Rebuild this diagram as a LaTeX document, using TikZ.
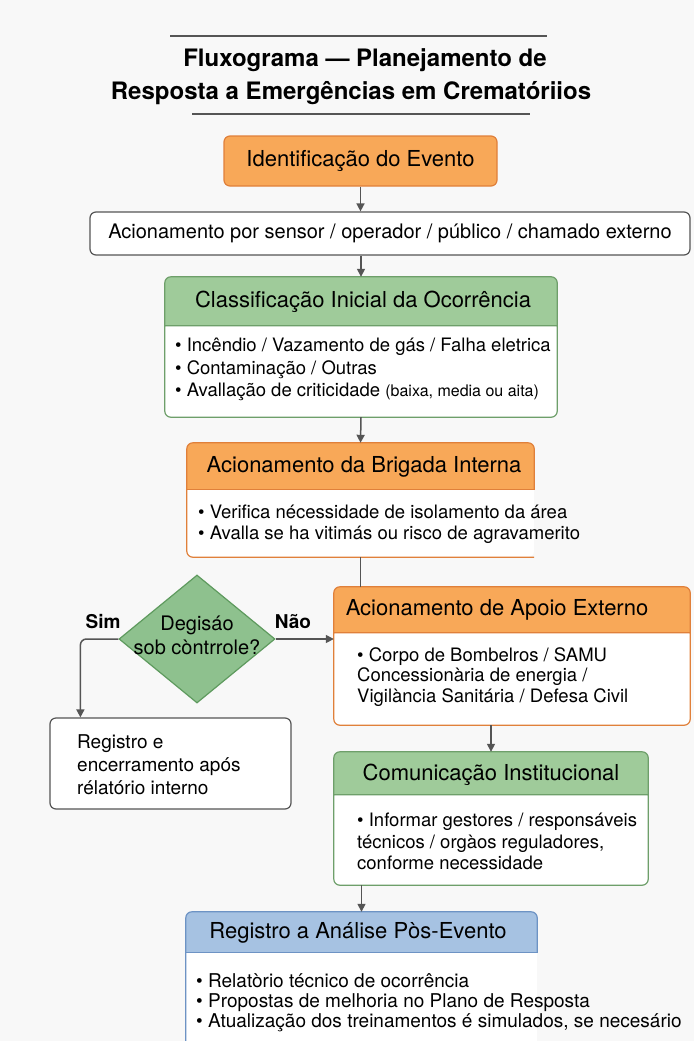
\documentclass[tikz,border=0pt]{standalone}
\usepackage{fontspec}
\setmainfont{TeX Gyre Heros}
\usepackage{xcolor}
\usepackage{tikz}
\usetikzlibrary{positioning,arrows.meta,shapes.geometric}
\definecolor{bgc}{HTML}{F8F8F8}
\definecolor{orfill}{HTML}{F8A858}
\definecolor{orbd}{HTML}{E0803A}
\definecolor{grfill}{HTML}{9FCB9A}
\definecolor{grbd}{HTML}{6E9F6A}
\definecolor{blfill}{HTML}{A6C2E2}
\definecolor{blbd}{HTML}{6D93C4}
\definecolor{dmfill}{HTML}{8EC18E}
\definecolor{dmbd}{HTML}{5E9A5E}
\definecolor{lnc}{HTML}{555555}
\newcommand{\hdrbox}[6]{% name, centre, width, height, header height, fill
  \node[minimum width=#3,minimum height=#4,inner sep=0pt,fill=white,rounded corners=6pt] (#1) at (#2) {};
  \begin{scope}
    \clip (#1.north west) rectangle ([yshift=-#5]#1.north east);
    \fill[#6,rounded corners=6pt] (#1.north west) rectangle (#1.south east);
  \end{scope}
}

\begin{document}
\begin{tikzpicture}[x=1pt,y=-1pt,
    bd/.style={draw=#1,line width=1.2pt,rounded corners=6pt},
    hdr/.style={font=\fontsize{22}{26}\selectfont},
    txt/.style={font=\fontsize{18.5}{21.5}\selectfont,align=left,anchor=west,inner sep=0pt},
    ln/.style={draw=lnc,line width=1.5pt},
    arw/.style={ln,-{Triangle[length=8pt,width=8pt]}}]
  \fill[bgc] (0,0) rectangle (694,1041);
  \useasboundingbox (0,0) rectangle (694,1041);
  % Title
  \draw[lnc,line width=1.4pt] (170,36) -- (547,36);
  \draw[lnc,line width=1.4pt] (192,114) -- (530,114);
  \node[font=\fontsize{24}{28}\bfseries] (title1) at (365,60) {Fluxograma — Planejamento de};
  \node[font=\fontsize{24}{28}\bfseries] (title2) at (351,93) {Resposta a Emergências em Crematóriios};
  % Event and trigger
  \node[bd=orbd,fill=orfill,minimum width=273pt,minimum height=50pt,hdr] (ident) at (360.5,161) {Identificação do Evento};
  \node[bd=lnc,fill=white,minimum width=600pt,minimum height=43pt,font=\fontsize{20}{24}\selectfont] (acion) at (390,233.5)
    {Acionamento por sensor / operador / público / chamado externo};
  % Classification
  \hdrbox{classif}{361,347}{392pt}{140pt}{49pt}{grfill}
  \draw[bd=grbd] (classif.north west) rectangle (classif.south east)
    ([yshift=-49pt]classif.north west) -- ([yshift=-49pt]classif.north east);
  \node[hdr] (classifH) at (363,302) {Classificação Inicial da Ocorrência};
  \node[txt,font=\fontsize{18.5}{22.5}\selectfont] (classifB) at (175,369.5)
    {\textbullet\ Incêndio / Vazamento de gás / Falha eletrica\\
     \textbullet\ Contaminação / Outras\\
     \textbullet\ Avallação de criticidade {\fontsize{16}{22.5}\selectfont(baixa, media ou aita)}};
  % Internal brigade
  \hdrbox{brig}{360.5,500}{347pt}{114pt}{47pt}{orfill}
  \draw[bd=orbd] (brig.south east) -| (brig.north west) -| ([yshift=-47pt]brig.north east);
  \draw[bd=orbd] ([yshift=-47pt]brig.north west) -- ([yshift=-47pt]brig.north east);
  \node[hdr] (brigH) at (364,467) {Acionamento da Brigada Interna};
  \node[txt] (brigB) at (198,524)
    {\textbullet\ Verifica nécessidade de isolamento da área\\
     \textbullet\ Avalla se ha vitimás ou risco de agravamerito};
  % Decision
  \node[diamond,aspect=1.22,fill=dmfill,draw=dmbd,line width=1.2pt,minimum width=156pt,minimum height=128pt,inner sep=0pt] (dec) at (197,639) {};
  \node[align=center,font=\fontsize{20}{24}\selectfont] (decT) at (197,635) {Degisáo\\sob còntrrole?};
  \node[font=\fontsize{19}{22}\bfseries] (sim) at (103,622) {Sim};
  \node[font=\fontsize{19}{22}\bfseries] (nao) at (293,622) {Não};
  \node[bd=lnc,fill=white,minimum width=241pt,minimum height=91pt] (regi) at (170.5,763.5) {};
  \node[txt,font=\fontsize{19}{23}\selectfont] (regiT) at (77,765) {Registro e\\encerramento após\\rélatório interno};
  % External support
  \hdrbox{apoio}{512,656}{356pt}{138pt}{46pt}{orfill}
  \draw[bd=orbd] (apoio.north west) rectangle (apoio.south east)
    ([yshift=-46pt]apoio.north west) -- ([yshift=-46pt]apoio.north east);
  \node[hdr] (apoioH) at (497,610) {Acionamento de Apoio Externo};
  \node[txt,font=\fontsize{18.5}{20.5}\selectfont] (apoioB) at (357,677)
    {\textbullet\ Corpo de Bombelros / SAMU\\
     Concessionària de energia /\\
     Vigilància Sanitária / Defesa Civil};
  % Communication
  \hdrbox{comun}{491,818.5}{314pt}{133pt}{43pt}{grfill}
  \draw[bd=grbd] (comun.north west) rectangle (comun.south east)
    ([yshift=-43pt]comun.north west) -- ([yshift=-43pt]comun.north east);
  \node[hdr] (comunH) at (491,775) {Comunicação Institucional};
  \node[txt] (comunB) at (357,841.5)
    {\textbullet\ Informar gestores / responsáveis\\
     técnicos / orgàos reguladores,\\
     conforme necessidade};
  % Post-event
  \hdrbox{regan}{361.5,986}{351pt}{148pt}{41pt}{blfill}
  \draw[bd=blbd] (regan.south west) |- (regan.north east) -- ([yshift=-41pt]regan.north east);
  \draw[bd=blbd] ([yshift=-41pt]regan.north west) -- ([yshift=-41pt]regan.north east);
  \node[hdr] (reganH) at (358,933) {Registro a Análise Pòs-Evento};
  \node[txt,font=\fontsize{19}{20}\selectfont] (reganB) at (196,1003)
    {\textbullet\ Relatòrio técnico de ocorrência\\
     \textbullet\ Propostas de melhoria no Plano de Resposta\\
     \textbullet\ Atualização dos treinamentos é simulados, se necesário};
  % Connectors
  \draw[arw] (ident.south) -- (ident.south |- acion.north);
  \draw[arw] (classif.north |- acion.south) -- (classif.north);
  \draw[arw] (classif.south) -- (brig.north);
  \draw[ln] (brig.south) -- (brig.south |- apoio.north);
  \draw[arw] (dec.east) -- (dec.east -| apoio.west);
  \draw[arw,rounded corners=6pt] (dec.west) -| ([xshift=31pt]regi.north west);
  \draw[arw] (comun.north |- apoio.south) -- (comun.north);
  \draw[arw] (regan.north |- comun.south) -- (regan.north);
\end{tikzpicture}
\end{document}
